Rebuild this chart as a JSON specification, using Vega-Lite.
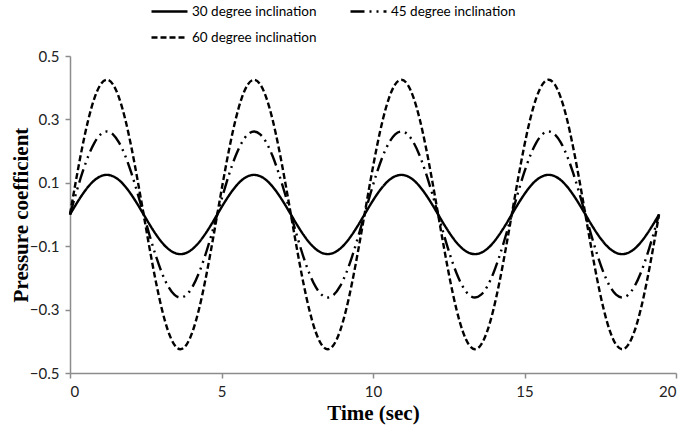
{
  "$schema": "https://vega.github.io/schema/vega-lite/v6.json",
  "width": 606,
  "height": 317,
  "autosize": "none",
  "padding": {"left": 70, "top": 56, "right": 9, "bottom": 59},
  "background": "white",
  "config": {"view": {"stroke": null}},
  "data": {"values": [
    {"t":0,"s30":0,"s45":0,"s60":0},
    {"t":0.2025,"s30":0.0324,"s45":0.0678,"s60":0.11},
    {"t":0.405,"s30":0.0625,"s45":0.131,"s60":0.2125},
    {"t":0.6075,"s30":0.0884,"s45":0.1853,"s60":0.3005},
    {"t":0.81,"s30":0.1083,"s45":0.2269,"s60":0.3681},
    {"t":1.0125,"s30":0.1207,"s45":0.2531,"s60":0.4105},
    {"t":1.215,"s30":0.125,"s45":0.262,"s60":0.425},
    {"t":1.4175,"s30":0.1207,"s45":0.2531,"s60":0.4105},
    {"t":1.62,"s30":0.1083,"s45":0.2269,"s60":0.3681},
    {"t":1.8225,"s30":0.0884,"s45":0.1853,"s60":0.3005},
    {"t":2.025,"s30":0.0625,"s45":0.131,"s60":0.2125},
    {"t":2.2275,"s30":0.0324,"s45":0.0678,"s60":0.11},
    {"t":2.43,"s30":0,"s45":0,"s60":0},
    {"t":2.6325,"s30":-0.0324,"s45":-0.0678,"s60":-0.11},
    {"t":2.835,"s30":-0.0625,"s45":-0.131,"s60":-0.2125},
    {"t":3.0375,"s30":-0.0884,"s45":-0.1853,"s60":-0.3005},
    {"t":3.24,"s30":-0.1083,"s45":-0.2269,"s60":-0.3681},
    {"t":3.4425,"s30":-0.1207,"s45":-0.2531,"s60":-0.4105},
    {"t":3.645,"s30":-0.125,"s45":-0.262,"s60":-0.425},
    {"t":3.8475,"s30":-0.1207,"s45":-0.2531,"s60":-0.4105},
    {"t":4.05,"s30":-0.1083,"s45":-0.2269,"s60":-0.3681},
    {"t":4.2525,"s30":-0.0884,"s45":-0.1853,"s60":-0.3005},
    {"t":4.455,"s30":-0.0625,"s45":-0.131,"s60":-0.2125},
    {"t":4.6575,"s30":-0.0324,"s45":-0.0678,"s60":-0.11},
    {"t":4.86,"s30":0,"s45":0,"s60":0},
    {"t":5.0625,"s30":0.0324,"s45":0.0678,"s60":0.11},
    {"t":5.265,"s30":0.0625,"s45":0.131,"s60":0.2125},
    {"t":5.4675,"s30":0.0884,"s45":0.1853,"s60":0.3005},
    {"t":5.67,"s30":0.1083,"s45":0.2269,"s60":0.3681},
    {"t":5.8725,"s30":0.1207,"s45":0.2531,"s60":0.4105},
    {"t":6.075,"s30":0.125,"s45":0.262,"s60":0.425},
    {"t":6.2775,"s30":0.1207,"s45":0.2531,"s60":0.4105},
    {"t":6.48,"s30":0.1083,"s45":0.2269,"s60":0.3681},
    {"t":6.6825,"s30":0.0884,"s45":0.1853,"s60":0.3005},
    {"t":6.885,"s30":0.0625,"s45":0.131,"s60":0.2125},
    {"t":7.0875,"s30":0.0324,"s45":0.0678,"s60":0.11},
    {"t":7.29,"s30":0,"s45":0,"s60":0},
    {"t":7.4925,"s30":-0.0324,"s45":-0.0678,"s60":-0.11},
    {"t":7.695,"s30":-0.0625,"s45":-0.131,"s60":-0.2125},
    {"t":7.8975,"s30":-0.0884,"s45":-0.1853,"s60":-0.3005},
    {"t":8.1,"s30":-0.1083,"s45":-0.2269,"s60":-0.3681},
    {"t":8.3025,"s30":-0.1207,"s45":-0.2531,"s60":-0.4105},
    {"t":8.505,"s30":-0.125,"s45":-0.262,"s60":-0.425},
    {"t":8.7075,"s30":-0.1207,"s45":-0.2531,"s60":-0.4105},
    {"t":8.91,"s30":-0.1083,"s45":-0.2269,"s60":-0.3681},
    {"t":9.1125,"s30":-0.0884,"s45":-0.1853,"s60":-0.3005},
    {"t":9.315,"s30":-0.0625,"s45":-0.131,"s60":-0.2125},
    {"t":9.5175,"s30":-0.0324,"s45":-0.0678,"s60":-0.11},
    {"t":9.72,"s30":0,"s45":0,"s60":0},
    {"t":9.9225,"s30":0.0324,"s45":0.0678,"s60":0.11},
    {"t":10.125,"s30":0.0625,"s45":0.131,"s60":0.2125},
    {"t":10.3275,"s30":0.0884,"s45":0.1853,"s60":0.3005},
    {"t":10.53,"s30":0.1083,"s45":0.2269,"s60":0.3681},
    {"t":10.7325,"s30":0.1207,"s45":0.2531,"s60":0.4105},
    {"t":10.935,"s30":0.125,"s45":0.262,"s60":0.425},
    {"t":11.1375,"s30":0.1207,"s45":0.2531,"s60":0.4105},
    {"t":11.34,"s30":0.1083,"s45":0.2269,"s60":0.3681},
    {"t":11.5425,"s30":0.0884,"s45":0.1853,"s60":0.3005},
    {"t":11.745,"s30":0.0625,"s45":0.131,"s60":0.2125},
    {"t":11.9475,"s30":0.0324,"s45":0.0678,"s60":0.11},
    {"t":12.15,"s30":0,"s45":0,"s60":0},
    {"t":12.3525,"s30":-0.0324,"s45":-0.0678,"s60":-0.11},
    {"t":12.555,"s30":-0.0625,"s45":-0.131,"s60":-0.2125},
    {"t":12.7575,"s30":-0.0884,"s45":-0.1853,"s60":-0.3005},
    {"t":12.96,"s30":-0.1083,"s45":-0.2269,"s60":-0.3681},
    {"t":13.1625,"s30":-0.1207,"s45":-0.2531,"s60":-0.4105},
    {"t":13.365,"s30":-0.125,"s45":-0.262,"s60":-0.425},
    {"t":13.5675,"s30":-0.1207,"s45":-0.2531,"s60":-0.4105},
    {"t":13.77,"s30":-0.1083,"s45":-0.2269,"s60":-0.3681},
    {"t":13.9725,"s30":-0.0884,"s45":-0.1853,"s60":-0.3005},
    {"t":14.175,"s30":-0.0625,"s45":-0.131,"s60":-0.2125},
    {"t":14.3775,"s30":-0.0324,"s45":-0.0678,"s60":-0.11},
    {"t":14.58,"s30":0,"s45":0,"s60":0},
    {"t":14.7825,"s30":0.0324,"s45":0.0678,"s60":0.11},
    {"t":14.985,"s30":0.0625,"s45":0.131,"s60":0.2125},
    {"t":15.1875,"s30":0.0884,"s45":0.1853,"s60":0.3005},
    {"t":15.39,"s30":0.1083,"s45":0.2269,"s60":0.3681},
    {"t":15.5925,"s30":0.1207,"s45":0.2531,"s60":0.4105},
    {"t":15.795,"s30":0.125,"s45":0.262,"s60":0.425},
    {"t":15.9975,"s30":0.1207,"s45":0.2531,"s60":0.4105},
    {"t":16.2,"s30":0.1083,"s45":0.2269,"s60":0.3681},
    {"t":16.4025,"s30":0.0884,"s45":0.1853,"s60":0.3005},
    {"t":16.605,"s30":0.0625,"s45":0.131,"s60":0.2125},
    {"t":16.8075,"s30":0.0324,"s45":0.0678,"s60":0.11},
    {"t":17.01,"s30":0,"s45":0,"s60":0},
    {"t":17.2125,"s30":-0.0324,"s45":-0.0678,"s60":-0.11},
    {"t":17.415,"s30":-0.0625,"s45":-0.131,"s60":-0.2125},
    {"t":17.6175,"s30":-0.0884,"s45":-0.1853,"s60":-0.3005},
    {"t":17.82,"s30":-0.1083,"s45":-0.2269,"s60":-0.3681},
    {"t":18.0225,"s30":-0.1207,"s45":-0.2531,"s60":-0.4105},
    {"t":18.225,"s30":-0.125,"s45":-0.262,"s60":-0.425},
    {"t":18.4275,"s30":-0.1207,"s45":-0.2531,"s60":-0.4105},
    {"t":18.63,"s30":-0.1083,"s45":-0.2269,"s60":-0.3681},
    {"t":18.8325,"s30":-0.0884,"s45":-0.1853,"s60":-0.3005},
    {"t":19.035,"s30":-0.0625,"s45":-0.131,"s60":-0.2125},
    {"t":19.2375,"s30":-0.0324,"s45":-0.0678,"s60":-0.11},
    {"t":19.44,"s30":0,"s45":0,"s60":0}
  ]},
  "transform": [{"fold": ["s30", "s45", "s60"], "as": ["series", "cp"]}],
  "mark": {"type": "line", "color": "black", "strokeWidth": 2.4, "interpolate": "monotone"},
  "encoding": {
    "x": {
      "field": "t", "type": "quantitative",
      "scale": {"domain": [0, 20], "nice": false, "zero": false},
      "axis": {
        "values": [0, 5, 10, 15, 20], "title": "Time (sec)", "grid": false,
        "domainColor": "#8c8c8c", "domainWidth": 1.5, "tickColor": "#8c8c8c", "tickWidth": 1.5, "tickSize": 5,
        "labelFont": "Lato", "labelFontSize": 15, "labelColor": "#222222", "labelPadding": 6,
        "titleFont": "Liberation Serif", "titleFontWeight": "bold", "titleFontSize": 21, "titleColor": "black", "titlePadding": 3
      }
    },
    "y": {
      "field": "cp", "type": "quantitative",
      "scale": {"domain": [-0.5, 0.5], "nice": false, "zero": false},
      "axis": {
        "values": [-0.5, -0.3, -0.1, 0.1, 0.3, 0.5], "title": "Pressure coefficient", "grid": false,
        "domainColor": "#8c8c8c", "domainWidth": 1.5, "tickColor": "#8c8c8c", "tickWidth": 1.5, "tickSize": 5,
        "labelFont": "Lato", "labelFontSize": 15, "labelColor": "#222222", "labelPadding": 6,
        "titleFont": "Liberation Serif", "titleFontWeight": "bold", "titleFontSize": 21, "titleColor": "black", "titlePadding": -2
      }
    },
    "strokeDash": {
      "field": "series", "type": "nominal",
      "scale": {"domain": ["s30", "s45", "s60"], "range": [[1, 0], [14, 5, 2, 5, 2, 5], [6, 3]]},
      "legend": {
        "orient": "none", "legendX": 80, "legendY": -64, "columns": 2, "direction": "horizontal", "title": null,
        "labelExpr": "{'s30':'30 degree inclination','s45':'45 degree inclination','s60':'60 degree inclination'}[datum.value]",
        "labelFont": "Lato", "labelFontSize": 13.5, "labelColor": "black", "labelOffset": 3,
        "symbolType": "stroke", "symbolStrokeColor": "black", "symbolStrokeWidth": 2.5, "symbolSize": 1296,
        "columnPadding": 28, "rowPadding": -7, "padding": 0
      }
    }
  }
}
